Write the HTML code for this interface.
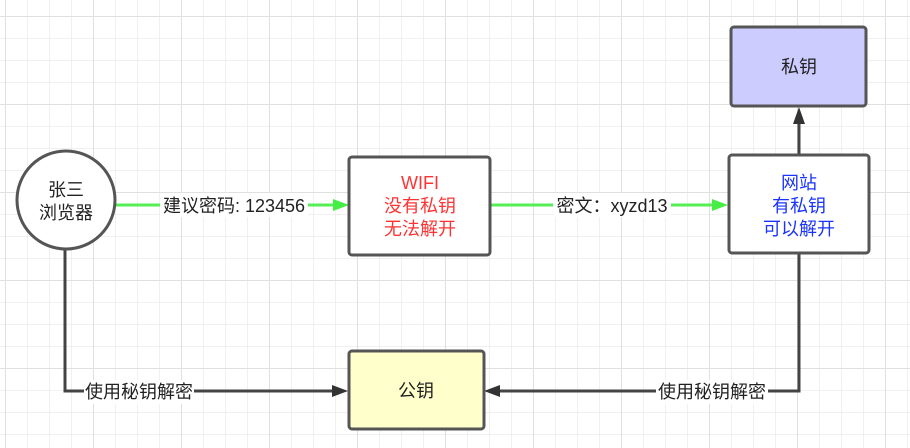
<!DOCTYPE html>
<html><head><meta charset="utf-8"><style>
html,body{margin:0;padding:0;background:#fff;}
svg{display:block;font-family:"Liberation Sans","Noto Sans CJK SC",sans-serif;}
</style></head><body>
<svg width="910" height="448" viewBox="0 0 910 448" xmlns="http://www.w3.org/2000/svg">
<defs>
<pattern id="g" x="5" y="16" width="22" height="22" patternUnits="userSpaceOnUse">
<path d="M0 0H22M0 0V22" stroke="#ebebeb" stroke-width="1.5" fill="none"/>
</pattern>
<pattern id="G" x="5" y="16" width="88" height="88" patternUnits="userSpaceOnUse">
<path d="M0 0H88M0 0V88" stroke="#e0e0e0" stroke-width="2" fill="none"/>
</pattern>
</defs>
<rect width="910" height="448" fill="url(#g)"/>
<rect width="910" height="448" fill="url(#G)"/>

<line x1="115" y1="205" x2="335" y2="205" stroke="#55ee55" stroke-width="3"/>
<polygon points="349,205 333,199 333,211" fill="#44ee44"/>
<line x1="490" y1="205" x2="714" y2="205" stroke="#55ee55" stroke-width="3"/>
<polygon points="728,205 712,199 712,211" fill="#44ee44"/>
<rect x="160" y="193" width="148" height="24" fill="#fff"/>
<text x="234" y="212" font-size="18" text-anchor="middle" fill="#222">建议密码: 123456</text>
<rect x="553" y="193" width="118" height="24" fill="#fff"/>
<text x="612" y="212" font-size="18" text-anchor="middle" fill="#222">密文：xyzd13</text>

<polyline points="65,250 65,391 334,391" fill="none" stroke="#444" stroke-width="3"/>
<polygon points="348,391 332,385 332,397" fill="#333"/>
<polyline points="799,253 799,391 499,391" fill="none" stroke="#444" stroke-width="3"/>
<polygon points="484,391 500,385 500,397" fill="#333"/>
<line x1="799" y1="155" x2="799" y2="122" stroke="#444" stroke-width="3"/>
<polygon points="799,107 793,124 805,124" fill="#333"/>
<rect x="84" y="380" width="110" height="24" fill="#fff"/>
<text x="139" y="398" font-size="18" text-anchor="middle" fill="#222">使用秘钥解密</text>
<rect x="656" y="380" width="112" height="24" fill="#fff"/>
<text x="712" y="398" font-size="18" text-anchor="middle" fill="#222">使用秘钥解密</text>

<circle cx="66" cy="200" r="49" fill="#fff" stroke="#555" stroke-width="3"/>
<text x="66" y="196" font-size="18" text-anchor="middle" fill="#222">张三</text>
<text x="66" y="219" font-size="18" text-anchor="middle" fill="#222">浏览器</text>

<rect x="349" y="157" width="141" height="98" rx="3" fill="#fff" stroke="#555" stroke-width="3"/>
<text x="420" y="189" font-size="18" text-anchor="middle" fill="#ff3333">WIFI</text>
<text x="420" y="212" font-size="18" text-anchor="middle" fill="#ff3333">没有私钥</text>
<text x="420" y="235" font-size="18" text-anchor="middle" fill="#ff3333">无法解开</text>

<rect x="729" y="155" width="140" height="98" rx="3" fill="#fff" stroke="#555" stroke-width="3"/>
<text x="799" y="189" font-size="18" text-anchor="middle" fill="#1a33ff">网站</text>
<text x="799" y="212" font-size="18" text-anchor="middle" fill="#1a33ff">有私钥</text>
<text x="799" y="235" font-size="18" text-anchor="middle" fill="#1a33ff">可以解开</text>

<rect x="731" y="27" width="135" height="79" rx="3" fill="#ccccff" stroke="#555" stroke-width="3"/>
<text x="799" y="73" font-size="18" text-anchor="middle" fill="#222">私钥</text>

<rect x="349" y="351" width="135" height="78" rx="3" fill="#ffffcc" stroke="#555" stroke-width="3"/>
<text x="416" y="397" font-size="18" text-anchor="middle" fill="#222">公钥</text>
</svg>
</body></html>
